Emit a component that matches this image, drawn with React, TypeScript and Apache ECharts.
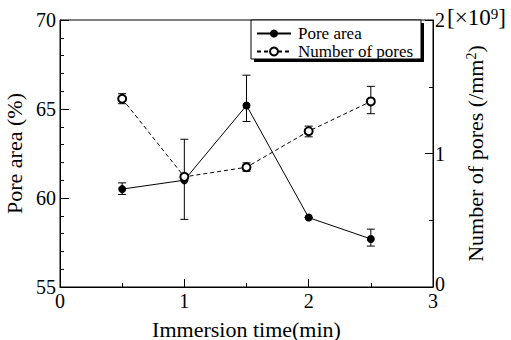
import React, { useEffect, useRef } from "react";
import * as echarts from "echarts";

const times = [0.5, 1, 1.5, 2, 2.5];
const poreArea = [60.5, 61.0, 65.2, 58.9, 57.7];
const poreAreaLow = [60.2, 58.8, 64.3, 58.9, 57.3];
const poreAreaHigh = [60.85, 63.3, 66.9, 58.9, 58.25];
const poreCount = [1.41, 0.825, 0.897, 1.167, 1.39];
const poreCountLow = [1.373, 0.81, 0.867, 1.125, 1.298];
const poreCountHigh = [1.448, 0.845, 0.93, 1.205, 1.503];

const FONT = "Liberation Serif";

function errorRender(params: any, api: any) {
  const x = api.value(0);
  const lo = api.coord([x, api.value(1)]);
  const hi = api.coord([x, api.value(2)]);
  const hw = 4;
  const style = { stroke: "#000", lineWidth: 1 };
  return {
    type: "group",
    children: [
      { type: "line", shape: { x1: lo[0], y1: lo[1], x2: hi[0], y2: hi[1] }, style },
      { type: "line", shape: { x1: lo[0] - hw, y1: lo[1], x2: lo[0] + hw, y2: lo[1] }, style },
      { type: "line", shape: { x1: hi[0] - hw, y1: hi[1], x2: hi[0] + hw, y2: hi[1] }, style },
    ],
  };
}

export default function App() {
  const ref = useRef<HTMLDivElement>(null);
  useEffect(() => {
    if (!ref.current) return;
    const chart = echarts.init(ref.current, null, { renderer: "svg" });
    const lineStyle = { color: "#000", width: 1 };
    const axisCommon = {
      axisLine: { show: true, lineStyle },
      axisTick: { show: true, inside: true, length: 8, lineStyle },
      minorTick: { show: true, length: 4, lineStyle },
      splitLine: { show: false },
      minorSplitLine: { show: false },
    };
    const labelStyle = { color: "#000", fontFamily: FONT, fontSize: 20, lineHeight: 14 };
    const nameStyle = { color: "#000", fontFamily: FONT, fontSize: 22 };
    chart.setOption({
      animation: false,
      backgroundColor: "#fff",
      grid: {
        left: 60,
        right: 78,
        top: 20,
        bottom: 53,
        containLabel: false,
        outerBoundsMode: "none",
        show: true,
        borderColor: "#000",
        borderWidth: 1,
        backgroundColor: "transparent",
      },
      xAxis: {
        type: "value",
        min: 0,
        max: 3,
        interval: 1,
        ...axisCommon,
        minorTick: { ...axisCommon.minorTick, splitNumber: 2 },
        axisLabel: { ...labelStyle, margin: 7 },
        name: "Immersion time(min)",
        nameLocation: "middle",
        nameGap: 31,
        nameTextStyle: nameStyle,
      },
      yAxis: [
        {
          type: "value",
          min: 55,
          max: 70,
          interval: 5,
          ...axisCommon,
          axisTick: { ...axisCommon.axisTick, length: 9 },
          minorTick: { ...axisCommon.minorTick, splitNumber: 5 },
          axisLabel: { ...labelStyle, margin: 4 },
          name: "Pore area (%)",
          nameLocation: "middle",
          nameGap: 28,
          nameTextStyle: nameStyle,
        },
        {
          type: "value",
          min: 0,
          max: 2,
          interval: 1,
          position: "right",
          ...axisCommon,
          minorTick: { ...axisCommon.minorTick, splitNumber: 2 },
          axisLabel: {
            ...labelStyle,
            margin: 2,
            formatter: (v: number) => (v === 0 ? "{z|0}" : String(v)),
            rich: {
              z: { color: "#000", fontFamily: FONT, fontSize: 20, lineHeight: 14, padding: [0, 0, 7, 0] },
            },
          },
          name: "Number of pores (/mm{sup|2})",
          nameLocation: "middle",
          nameGap: 31,
          nameTextStyle: {
            ...nameStyle,
            rich: {
              sup: { fontFamily: FONT, fontSize: 14, verticalAlign: "top", color: "#000" },
            },
          },
        },
      ],
      legend: {
        orient: "vertical",
        left: 256,
        top: 25,
        itemWidth: 34,
        itemHeight: 10,
        itemGap: 1,
        padding: 0,
        data: ["Pore area", "Number of pores"],
        textStyle: { color: "#000", fontFamily: FONT, fontSize: 17, lineHeight: 16, padding: [0, 0, 0, 2] },
        z: 10,
      },
      graphic: [
        { type: "rect", z: 8, shape: { x: 254, y: 23, width: 170, height: 39 }, style: { fill: "#000" } },
        {
          type: "rect",
          z: 9,
          shape: { x: 251, y: 20, width: 170, height: 39 },
          style: { fill: "#fff", stroke: "#000", lineWidth: 1 },
        },
        {
          type: "text",
          z: 9,
          left: 447,
          top: 6,
          style: {
            text: "[×10{sup|9}]",
            font: `23px ${FONT}`,
            fill: "#000",
            rich: { sup: { fontFamily: FONT, fontSize: 15, verticalAlign: "top", fill: "#000" } },
          },
        },
      ],
      series: [
        {
          name: "Pore area error",
          type: "custom",
          xAxisIndex: 0,
          yAxisIndex: 0,
          renderItem: errorRender,
          encode: { x: 0, y: [1, 2] },
          data: times.map((t, i) => [t, poreAreaLow[i], poreAreaHigh[i]]),
          z: 1,
          silent: true,
        },
        {
          name: "Number of pores error",
          type: "custom",
          xAxisIndex: 0,
          yAxisIndex: 1,
          renderItem: errorRender,
          encode: { x: 0, y: [1, 2] },
          data: times.map((t, i) => [t, poreCountLow[i], poreCountHigh[i]]),
          z: 1,
          silent: true,
        },
        {
          name: "Pore area",
          type: "line",
          yAxisIndex: 0,
          data: times.map((t, i) => [t, poreArea[i]]),
          symbol: "circle",
          symbolSize: 8,
          lineStyle: { color: "#000", width: 1, type: "solid" },
          itemStyle: { color: "#000" },
          z: 3,
        },
        {
          name: "Number of pores",
          type: "line",
          yAxisIndex: 1,
          data: times.map((t, i) => [t, poreCount[i]]),
          symbol: "emptyCircle",
          symbolSize: 8,
          lineStyle: { color: "#000", width: 1, type: [4, 3] },
          itemStyle: { color: "#000", borderColor: "#000", borderWidth: 1 },
          z: 3,
        },
      ],
    });
    return () => chart.dispose();
  }, []);
  return (
    <div
      ref={ref}
      style={{ position: "absolute", left: 0, top: 0, width: 511, height: 340 }}
    />
  );
}
